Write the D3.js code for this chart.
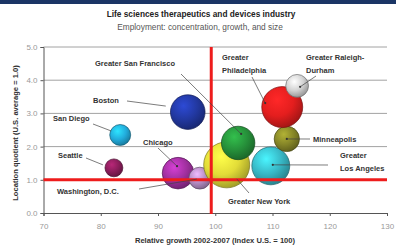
<!DOCTYPE html>
<html>
<head>
<meta charset="utf-8">
<script src="https://cdn.jsdelivr.net/npm/d3@7"></script>
<style>
  body { margin: 0; background: #fff; }
  svg { display: block; font-family: "Liberation Sans", Arial, sans-serif; }
</style>
</head>
<body>
<script>
// Data
var metros   = ["Seattle", "San Diego", "Boston", "Chicago", "Washington, D.C.", "Greater New York",
                "Greater Los Angeles", "Greater San Francisco", "Minneapolis", "Greater Philadelphia", "Greater Raleigh-Durham"];
var growth   = [82.3, 83.4, 95.2, 93.5, 97.3, 102.0, 109.7, 104.0, 112.5, 111.7, 114.3];
var lq       = [1.36, 2.35, 3.04, 1.20, 1.05, 1.45, 1.42, 2.11, 2.23, 3.19, 3.83];
var size     = [8, 11, 30, 25, 12, 53, 36, 28, 16, 42, 13];   // relative employment (bubble area)
var colors   = ["#8a1d5a", "#22acdc", "#2238a0", "#a0309f", "#b48cc2", "#e2dc38",
                "#38b8c6", "#26903a", "#868628", "#e41e1e", "#d2d2d2"];
var xTicks   = [70, 80, 90, 100, 110, 120, 130];
var yTicks   = [0, 1, 2, 3, 4, 5];
var usGrowth = 99.3, usLQ = 1.0;

var W = 396, H = 248;
var margin = {top: 47, right: 9, bottom: 35, left: 43.5},
    width = W - margin.left - margin.right,
    height = H - margin.top - margin.bottom;

var xScale = d3.scaleLinear().domain([70, 130]).range([0, width]);
var yScale = d3.scaleLinear().domain([0, 5]).range([height, 0]);
var rScale = d3.scaleSqrt().domain([0, 53]).range([0, 23]);

var svg = d3.select("body").append("svg")
    .attr("width", W).attr("height", H);

// top banner
svg.append("rect").attr("x", 0).attr("y", 0).attr("width", W).attr("height", 4).attr("fill", "#1b3565");

// titles
svg.append("text").attr("x", 201).attr("y", 17).attr("text-anchor", "middle")
    .style("font-size", "8.3px").style("font-weight", "bold").attr("fill", "#222")
    .text("Life sciences therapeutics and devices industry");
svg.append("text").attr("x", 200).attr("y", 30).attr("text-anchor", "middle")
    .style("font-size", "8.3px").attr("fill", "#555")
    .text("Employment: concentration, growth, and size");

var defs = svg.append("defs");
colors.forEach(function (c, i) {
    var grad = defs.append("radialGradient").attr("id", "g" + i)
        .attr("cx", "38%").attr("cy", "32%").attr("r", "72%");
    grad.append("stop").attr("offset", "0%").attr("stop-color", d3.color(c).brighter(0.8));
    grad.append("stop").attr("offset", "55%").attr("stop-color", c);
    grad.append("stop").attr("offset", "100%").attr("stop-color", d3.color(c).darker(1));
});

var g = svg.append("g").attr("transform", "translate(" + margin.left + "," + margin.top + ")");

// gridlines
g.append("g").selectAll("line").data(yTicks.filter(function (d) { return d > 0; }))
    .enter().append("line")
    .attr("x1", 0).attr("x2", width)
    .attr("y1", function (d) { return yScale(d); })
    .attr("y2", function (d) { return yScale(d); })
    .attr("stroke", "#8a8a8a").attr("stroke-width", 0.8);

// axes
var xAxis = g.append("g").attr("transform", "translate(0," + height + ")")
    .call(d3.axisBottom(xScale).tickValues(xTicks).tickSize(3).tickPadding(7).tickFormat(d3.format("d")));
var yAxis = g.append("g")
    .call(d3.axisLeft(yScale).tickValues(yTicks).tickSize(3).tickPadding(3).tickFormat(d3.format(".1f")));
[xAxis, yAxis].forEach(function (ax) {
    ax.select(".domain").attr("stroke", "#555").attr("stroke-width", 1);
    ax.selectAll(".tick line").attr("stroke", "#555");
    ax.selectAll("text").attr("fill", "#999").style("font-size", "8px").style("font-family", "Liberation Sans, Arial, sans-serif");
});

// bubbles
var order = d3.range(metros.length);
g.append("g").selectAll("circle").data(order)
    .enter().append("circle")
    .attr("cx", function (i) { return xScale(growth[i]); })
    .attr("cy", function (i) { return yScale(lq[i]); })
    .attr("r", function (i) { return rScale(size[i]); })
    .attr("fill", function (i) { return "url(#g" + i + ")"; })
    .attr("stroke", function (i) { return d3.color(colors[i]).darker(1.8); })
    .attr("stroke-width", 0.7);

// U.S. reference lines
g.append("line")
    .attr("x1", 0).attr("x2", width)
    .attr("y1", yScale(usLQ)).attr("y2", yScale(usLQ))
    .attr("stroke", "#ee1c1c").attr("stroke-width", 3);
g.append("line")
    .attr("x1", xScale(usGrowth)).attr("x2", xScale(usGrowth))
    .attr("y1", yScale(5)).attr("y2", height + 1)
    .attr("stroke", "#ee1c1c").attr("stroke-width", 3);

// labels: text position in svg px, leader from (lx,ly) to bubble centre + (dx,dy)
var labels = [
    {m: 0, lines: ["Seattle"], x: 58, y: 158, lx: 86, ly: 158, dx: -11, dy: -3, dot: false},
    {m: 1, lines: ["San Diego"], x: 53, y: 121, lx: 93, ly: 124, dx: -9, dy: -4, dot: false},
    {m: 2, lines: ["Boston"], x: 93, y: 103, lx: 127, ly: 101, dx: -22, dy: -6, dot: false},
    {m: 3, lines: ["Chicago"], x: 143, y: 145, lx: 158, ly: 148, dx: -1, dy: -7, dot: true},
    {m: 4, lines: ["Washington, D.C."], x: 57, y: 194, lx: 139, ly: 189, dx: -3, dy: 1, dot: false},
    {m: 5, lines: ["Greater New York"], x: 228, y: 204, lx: 249, ly: 193, dx: 10, dy: 14, dot: false},
    {m: 6, lines: ["Greater", "Los Angeles"], x: 340, y: 158, lx: 328, ly: 165, dx: 2, dy: -1, dot: true},
    {m: 7, lines: ["Greater San Francisco"], x: 95, y: 66, lx: 181, ly: 74, dx: 3, dy: -9, dot: true},
    {m: 8, lines: ["Minneapolis"], x: 313, y: 142, lx: 310, ly: 139, dx: 0, dy: 0, dot: true},
    {m: 9, lines: ["Greater", "Philadelphia"], x: 222, y: 60, lx: 252, ly: 77, dx: -17, dy: -4, dot: true},
    {m: 10, lines: ["Greater Raleigh-", "Durham"], x: 306, y: 60, lx: 316, ly: 76, dx: 3, dy: 1, dot: true}
];

var ann = svg.append("g");
labels.forEach(function (l) {
    var ex = margin.left + xScale(growth[l.m]) + l.dx,
        ey = margin.top + yScale(lq[l.m]) + l.dy;
    ann.append("line").attr("x1", l.lx).attr("y1", l.ly).attr("x2", ex).attr("y2", ey)
        .attr("stroke", "#444").attr("stroke-width", 0.7);
    if (l.dot) ann.append("circle").attr("cx", ex).attr("cy", ey).attr("r", 1.1).attr("fill", "#333");
    var t = ann.append("text").attr("x", l.x).attr("y", l.y)
        .style("font-size", "7.5px").style("font-weight", "bold").attr("fill", "#333");
    l.lines.forEach(function (s, k) {
        t.append("tspan").attr("x", l.x).attr("dy", k === 0 ? 0 : 12.5).text(s);
    });
});

// axis titles
svg.append("text").attr("x", 215).attr("y", 243).attr("text-anchor", "middle")
    .style("font-size", "7.6px").style("font-weight", "bold").attr("fill", "#333")
    .text("Relative growth 2002-2007 (Index U.S. = 100)");
svg.append("text").attr("transform", "translate(18,133) rotate(-90)").attr("text-anchor", "middle")
    .style("font-size", "7.6px").style("font-weight", "bold").attr("fill", "#333")
    .text("Location quotient (U.S. average = 1.0)");
</script>
</body>
</html>
